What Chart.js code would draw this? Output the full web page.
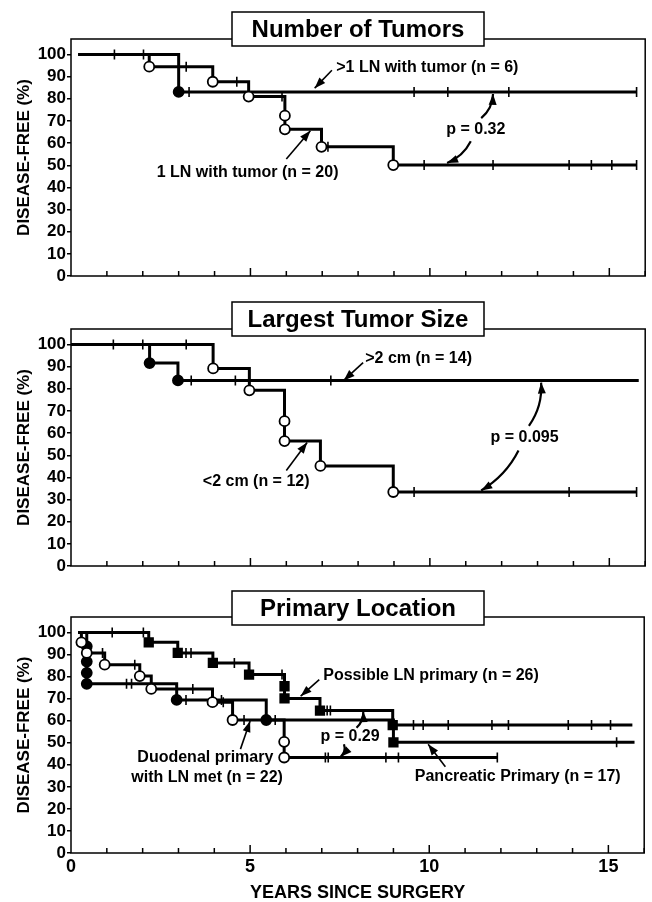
<!DOCTYPE html>
<html>
<head>
<meta charset="utf-8">
<script src="https://cdn.jsdelivr.net/npm/chart.js@4/dist/chart.umd.min.js"></script>
<style>
html, body { margin: 0; padding: 0; background: #fff; }
#wrap { position: relative; width: 652px; height: 902px; }
canvas { position: absolute; left: 0; }
</style>
</head>
<body>
<div id="wrap">
  <canvas id="p1" width="652" height="290" style="top:0px"></canvas>
  <canvas id="p2" width="652" height="290" style="top:290px"></canvas>
  <canvas id="p3" width="652" height="322" style="top:580px"></canvas>
</div>
<script>
// Werte (Jahre / % krankheitsfrei)

// --- Number of Tumors ---
const moreLnT = [0.2, 3.0, 15.76];
const moreLnS = [100, 83.1, 83.1];
const moreLnCensT = [3.29, 9.56, 10.5, 12.2, 15.76];
const moreLnCensS = [83.1, 83.1, 83.1, 83.1, 83.1];

const oneLnT = [0.2, 2.18, 3.95, 4.95, 5.96, 5.96, 6.98, 8.98, 15.76];
const oneLnS = [100, 94.5, 87.7, 81.0, 72.4, 66.2, 58.3, 50.1, 50.1];
const oneLnCensT = [1.21, 2.02, 3.21, 4.62, 5.88, 7.16, 9.84, 11.76, 13.88, 14.5, 15.07, 15.76];
const oneLnCensS = [100, 100, 94.5, 87.7, 81.0, 58.3, 50.1, 50.1, 50.1, 50.1, 50.1, 50.1];

// --- Largest Tumor Size ---
const bigT = [0, 2.19, 2.98, 15.82];
const bigS = [100, 91.6, 83.8, 83.8];
const bigCensT = [3.35, 4.58, 7.24];
const bigCensS = [83.8, 83.8, 83.8];

const smallT = [0, 3.96, 4.97, 5.95, 5.95, 6.95, 8.98, 15.76];
const smallS = [100, 89.2, 79.3, 65.4, 56.4, 45.2, 33.4, 33.4];
const smallCensT = [1.18, 2.0, 3.21, 9.56, 13.88, 15.76];
const smallCensS = [100, 100, 100, 33.4, 33.4, 33.4];

// --- Primary Location ---
const possT = [0.2, 2.17, 2.98, 3.96, 4.97, 5.96, 5.96, 6.95, 8.98, 15.67];
const possS = [100, 95.5, 90.7, 86.2, 80.9, 75.6, 70.1, 64.6, 58.0, 58.0];
const possCensT = [1.15, 2.02, 3.21, 3.35, 4.56, 5.89, 7.15, 7.24, 9.56, 9.83, 10.53, 11.75, 12.21, 13.88, 14.53, 15.06];
const possCensS = [100, 100, 90.7, 90.7, 86.2, 80.9, 64.6, 64.6, 58, 58, 58, 58, 58, 58, 58, 58];

const duoT = [0.2, 0.29, 0.44, 0.94, 1.92, 2.24, 3.95, 4.51, 5.95, 5.95, 11.9];
const duoS = [100, 95.5, 90.7, 85.4, 80.2, 74.4, 68.4, 60.3, 50.4, 43.3, 43.3];
const duoCensT = [0.88, 1.78, 3.4, 4.25, 4.83, 7.1, 7.18, 8.79, 9.14, 11.9];
const duoCensS = [90.7, 85.4, 74.4, 68.4, 60.3, 43.3, 43.3, 43.3, 43.3, 43.3];

const pancT = [0.2, 0.44, 0.44, 0.44, 0.44, 2.95, 5.45, 9.0, 15.73];
const pancS = [100, 93.7, 86.8, 81.7, 76.7, 69.4, 60.3, 50.2, 50.2];
const pancCensT = [1.55, 1.69, 3.21, 4.2, 5.7, 15.23];
const pancCensS = [76.7, 76.7, 69.4, 69.4, 60.3, 50.2];

const xLabels = [0, 5, 10, 15];

const FONT = '"Liberation Sans", Arial, Helvetica, sans-serif';

function pts(t, s) {
  return t.map((x, i) => ({ x: x, y: s[i] }));
}

// eine KM-Kurve -> drei Datasets (Linie, Zensierungsstriche, Ereignismarker)
function curve(t, s, censT, censS, style, fill, radius) {
  return [
    {
      data: pts(t.slice(1, -1), s.slice(1, -1)),
      showLine: false,
      pointStyle: style,
      pointRadius: radius,
      pointBackgroundColor: fill,
      pointBorderColor: '#000',
      pointBorderWidth: 1.8,
      order: 0
    },
    {
      data: pts(censT, censS),
      showLine: false,
      pointStyle: 'line',
      pointRotation: 90,
      pointRadius: 5,
      pointBorderColor: '#000',
      pointBorderWidth: 1.6,
      order: 1
    },
    {
      data: pts(t, s),
      stepped: 'before',
      borderColor: '#000',
      borderWidth: 3,
      pointRadius: 0,
      order: 2
    }
  ];
}

function arrow(ctx, x1, y1, x2, y2, bend) {
  ctx.beginPath();
  ctx.moveTo(x1, y1);
  let ang;
  if (bend) {
    const dx = x2 - x1, dy = y2 - y1, len = Math.hypot(dx, dy);
    const cx = (x1 + x2) / 2 - dy / len * bend;
    const cy = (y1 + y2) / 2 + dx / len * bend;
    ctx.quadraticCurveTo(cx, cy, x2, y2);
    ang = Math.atan2(y2 - cy, x2 - cx);
  } else {
    ctx.lineTo(x2, y2);
    ang = Math.atan2(y2 - y1, x2 - x1);
  }
  ctx.stroke();
  const L = 11, W = 4;
  ctx.beginPath();
  ctx.moveTo(x2, y2);
  ctx.lineTo(x2 - L * Math.cos(ang) + W * Math.sin(ang), y2 - L * Math.sin(ang) - W * Math.cos(ang));
  ctx.lineTo(x2 - L * Math.cos(ang) - W * Math.sin(ang), y2 - L * Math.sin(ang) + W * Math.cos(ang));
  ctx.closePath();
  ctx.fill();
}

const deco = {
  id: 'deco',
  beforeDatasetsDraw(chart) {
    const { ctx, chartArea: a } = chart;
    const xs = chart.scales.x;
    ctx.save();
    ctx.strokeStyle = '#000';
    ctx.lineWidth = 1.5;
    ctx.strokeRect(a.left, a.top, a.right - a.left, a.bottom - a.top);
    // Striche nach innen auf der x-Achse
    xs.ticks.forEach(tk => {
      if (tk.value === 0) return;
      const px = xs.getPixelForValue(tk.value);
      const len = tk.value % 5 === 0 ? 8 : 5;
      ctx.beginPath();
      ctx.moveTo(px, a.bottom);
      ctx.lineTo(px, a.bottom - len);
      ctx.stroke();
    });
    ctx.restore();
  },
  afterDatasetsDraw(chart, args, opts) {
    const { ctx } = chart;
    const xs = chart.scales.x, ys = chart.scales.y;
    ctx.save();
    ctx.fillStyle = '#000';
    ctx.strokeStyle = '#000';
    ctx.lineWidth = 1.8;
    ctx.font = 'bold 16px ' + FONT;
    ctx.textBaseline = 'middle';
    opts.labels.forEach(l => {
      ctx.textAlign = l.align;
      ctx.fillText(l.text, xs.getPixelForValue(l.x), ys.getPixelForValue(l.y));
    });
    opts.arrows.forEach(r => {
      ctx.lineWidth = r.bend ? 2.2 : 1.6;
      arrow(ctx, xs.getPixelForValue(r.x1), ys.getPixelForValue(r.y1),
        xs.getPixelForValue(r.x2), ys.getPixelForValue(r.y2), r.bend || 0);
    });
    // Titelkasten
    const b = opts.box;
    ctx.lineWidth = 1.5;
    ctx.fillStyle = '#fff';
    ctx.fillRect(b.left, b.top, b.width, b.height);
    ctx.strokeRect(b.left, b.top, b.width, b.height);
    ctx.fillStyle = '#000';
    ctx.font = 'bold 24px ' + FONT;
    ctx.textAlign = 'center';
    ctx.fillText(b.text, b.left + b.width / 2, b.top + b.height / 2 + 1);
    ctx.restore();
  }
};

function makePanel(id, datasets, deco, padTop, xHeight, showX) {
  const el = document.getElementById(id);
  new Chart(el, {
    type: 'line',
    data: { datasets: datasets },
    plugins: [deco.plugin],
    options: {
      responsive: false,
      animation: false,
      events: [],
      layout: { padding: { top: padTop, right: 5, left: 0, bottom: 0 } },
      scales: {
        x: {
          type: 'linear',
          min: 0,
          max: 16,
          afterFit: s => { s.height = xHeight; },
          ticks: {
            stepSize: 1,
            autoSkip: false,
            maxRotation: 0,
            padding: 3,
            color: '#000',
            font: { family: FONT, size: 18, weight: 'bold' },
            callback: v => (showX && xLabels.includes(v)) ? String(v) : ''
          },
          grid: { display: false, drawTicks: false },
          border: { display: false },
          title: {
            display: showX,
            text: 'YEARS SINCE SURGERY',
            color: '#000',
            font: { family: FONT, size: 18, weight: 'bold', lineHeight: 1 },
            padding: { top: 0, bottom: 0 }
          }
        },
        y: {
          min: 0,
          max: 107,
          afterFit: s => { s.width = 71; },
          ticks: {
            stepSize: 10,
            includeBounds: false,
            autoSkip: false,
            padding: 1,
            color: '#000',
            font: { family: FONT, size: 17, weight: 'bold', lineHeight: 1 }
          },
          grid: { drawOnChartArea: false, drawTicks: true, tickLength: 4, color: '#000', lineWidth: 1.5 },
          border: { display: false },
          title: {
            display: true,
            text: 'DISEASE-FREE (%)',
            color: '#000',
            font: { family: FONT, size: 17, weight: 'bold' },
            padding: { top: 14, bottom: 0 }
          }
        }
      },
      plugins: {
        legend: { display: false },
        tooltip: { enabled: false },
        deco: deco.opts
      }
    }
  });
}

// Panel 1
makePanel('p1',
  [].concat(
    curve(moreLnT, moreLnS, moreLnCensT, moreLnCensS, 'circle', '#000', 5),
    curve(oneLnT, oneLnS, oneLnCensT, oneLnCensS, 'circle', '#fff', 5)
  ),
  {
    plugin: deco,
    opts: {
      box: { text: 'Number of Tumors', left: 232, top: 12, width: 252, height: 34 },
      labels: [
        { text: '>1 LN with tumor (n = 6)', x: 7.39, y: 94.3, align: 'left' },
        { text: '1 LN with tumor (n = 20)', x: 4.92, y: 46.9, align: 'center' },
        { text: 'p = 0.32', x: 11.28, y: 66.1, align: 'center' }
      ],
      arrows: [
        { x1: 7.27, y1: 92.9, x2: 6.79, y2: 84.8 },
        { x1: 6.0, y1: 52.8, x2: 6.67, y2: 65.6 },
        { x1: 11.43, y1: 71.3, x2: 11.76, y2: 82.2, bend: 6 },
        { x1: 11.14, y1: 60.8, x2: 10.48, y2: 51.0, bend: -6 }
      ]
    }
  }, 39, 14, false);

// Panel 2
makePanel('p2',
  [].concat(
    curve(bigT, bigS, bigCensT, bigCensS, 'circle', '#000', 5),
    curve(smallT, smallS, smallCensT, smallCensS, 'circle', '#fff', 5)
  ),
  {
    plugin: deco,
    opts: {
      box: { text: 'Largest Tumor Size', left: 232, top: 12, width: 252, height: 34 },
      labels: [
        { text: '>2 cm (n = 14)', x: 8.2, y: 93.6, align: 'left' },
        { text: '<2 cm (n = 12)', x: 5.16, y: 37.9, align: 'center' },
        { text: 'p = 0.095', x: 12.64, y: 58.1, align: 'center' }
      ],
      arrows: [
        { x1: 8.14, y1: 91.8, x2: 7.6, y2: 83.8 },
        { x1: 6.0, y1: 43.1, x2: 6.58, y2: 55.8 },
        { x1: 12.76, y1: 63.3, x2: 13.1, y2: 82.8, bend: 8 },
        { x1: 12.47, y1: 52.1, x2: 11.43, y2: 34.1, bend: -8 }
      ]
    }
  }, 39, 14, false);

// Panel 3
makePanel('p3',
  [].concat(
    curve(possT, possS, possCensT, possCensS, 'rect', '#000', 6),
    curve(duoT, duoS, duoCensT, duoCensS, 'circle', '#fff', 5),
    curve(pancT, pancS, pancCensT, pancCensS,
      ['circle', 'circle', 'circle', 'circle', 'circle', 'circle', 'rect'], '#000',
      [5, 5, 5, 5, 5, 5, 6])
  ),
  {
    plugin: deco,
    opts: {
      box: { text: 'Primary Location', left: 232, top: 11, width: 252, height: 34 },
      labels: [
        { text: 'Possible LN primary (n = 26)', x: 7.04, y: 80.5, align: 'left' },
        { text: 'Duodenal primary', x: 3.75, y: 43.3, align: 'center' },
        { text: 'with LN met (n = 22)', x: 3.8, y: 34.3, align: 'center' },
        { text: 'Pancreatic Primary (n = 17)', x: 12.47, y: 34.6, align: 'center' },
        { text: 'p = 0.29', x: 7.79, y: 52.6, align: 'center' }
      ],
      arrows: [
        { x1: 6.93, y1: 78.6, x2: 6.41, y2: 71.1 },
        { x1: 4.73, y1: 47.1, x2: 5.0, y2: 59.8 },
        { x1: 10.45, y1: 39.1, x2: 9.97, y2: 49.3 },
        { x1: 7.97, y1: 56.8, x2: 8.16, y2: 64.3, bend: 4 },
        { x1: 7.62, y1: 49.3, x2: 7.53, y2: 43.6, bend: -4 }
      ]
    }
  }, 37, 49, true);
</script>
</body>
</html>
